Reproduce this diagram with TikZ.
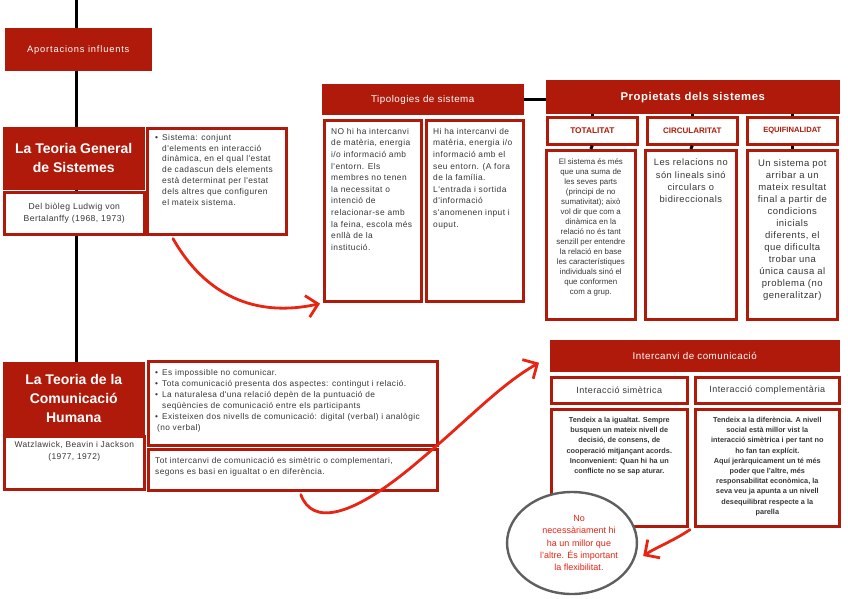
\documentclass[tikz,border=0pt]{standalone}
\usepackage{fontspec}
\setmainfont{Liberation Sans}
\newfontfamily\spaced[LetterSpace=5]{Liberation Sans}
\newfontfamily\wider[LetterSpace=9]{Liberation Sans}
\usetikzlibrary{arrows.meta,shapes.geometric,calc}
\definecolor{mainred}{RGB}{176,26,10}
\definecolor{arrowred}{RGB}{232,36,18}
\definecolor{bodygray}{RGB}{55,55,55}
\definecolor{ringgray}{RGB}{95,95,95}
\newcommand{\bl}{\makebox[7pt][l]{•}}
\newcommand{\ind}{\hspace*{7pt}}
\tikzset{
  redhead/.style={fill=mainred, draw=mainred, line width=1.5pt, text=white, align=center, inner sep=2pt, anchor=north west},
  whitebox/.style={draw=mainred, line width=2.6pt, fill=white, anchor=north west, inner sep=0pt},
  bodytext/.style={text=bodygray, inner sep=0pt},
  redarrow/.style={draw=arrowred, line width=2.8pt, line cap=round, -{Straight Barb[length=11pt,width=22pt,line width=2.8pt]}},
  spine/.style={draw=black, line width=3pt},
}
\begin{document}
\begin{tikzpicture}[x=1pt,y=-1pt]
\useasboundingbox (0,0) rectangle (848,599);
% spine
\coordinate (top) at (76,0);
\coordinate (bottom) at (76,488);
\draw[spine] (top) -- (bottom);
% left column
\node[redhead, minimum width=145, minimum height=42, font=\wider\fontsize{9.3}{11}\selectfont] (aport) at (5,28) {Aportacions influents};
\node[redhead, minimum width=140, minimum height=61, font=\fontsize{14}{19}\selectfont\bfseries] (gen) at (3,127) {La Teoria General\\de Sistemes};
\node[whitebox, minimum width=140, minimum height=42, align=center, font=\spaced\fontsize{8.6}{12}\selectfont, text=bodygray] (gendesc) at (3,191) {Del biòleg Ludwig von\\Bertalanffy (1968, 1973)};
\node[whitebox, minimum width=139, minimum height=106] (sist) at (146,127) {};
\node[bodytext, anchor=north west, align=left, font=\spaced\fontsize{8.4}{10.8}\selectfont] (sistt) at (155,134)
  {\bl Sistema: conjunt\\ \ind d'elements en interacció\\ \ind dinàmica, en el qual l'estat\\ \ind de cadascun dels elements\\ \ind està determinat per l'estat\\ \ind dels altres que configuren\\ \ind el mateix sistema.};

\node[redhead, minimum width=140, minimum height=71, font=\fontsize{14}{19}\selectfont\bfseries] (com) at (3,362) {La Teoria de la\\Comunicació\\Humana};
\node[whitebox, minimum width=140, minimum height=53] (comdesc) at (3,435) {};
\node[bodytext, anchor=north, align=center, font=\spaced\fontsize{8.4}{12}\selectfont] (comdesct) at ($(comdesc.north)+(0,6)$) {Watzlawick, Beavin i Jackson\\(1977, 1972)};
\node[whitebox, minimum width=289, minimum height=84] (bul) at (147,360) {};
\node[bodytext, anchor=north west, align=left, font=\spaced\fontsize{8.3}{11}\selectfont] (bult) at (155,369)
  {\bl Es impossible no comunicar.\\
   \bl Tota comunicació presenta dos aspectes: contingut i relació.\\
   \bl La naturalesa d'una relació depèn de la puntuació de\\
   \ind seqüències de comunicació entre els participants\\
   \bl Existeixen dos nivells de comunicació: digital (verbal) i analògic\\
   \hspace*{2pt}(no verbal)};
\node[whitebox, minimum width=289, minimum height=41] (totint) at (147,448) {};
\node[bodytext, anchor=north west, align=left, font=\spaced\fontsize{8.3}{11}\selectfont] (totintt) at (155,457)
  {Tot intercanvi de comunicació es simètric o complementari,\\segons es basi en igualtat o en diferència.};

% tipologies
\node[redhead, minimum width=200, minimum height=30, font=\spaced\fontsize{9.8}{11}\selectfont] (tiph) at (322,84) {Tipologies de sistema};
\node[whitebox, minimum width=97, minimum height=181] (tip1) at (323,119) {};
\node[whitebox, minimum width=97, minimum height=181] (tip2) at (425,119) {};
\node[bodytext, anchor=north west, align=left, font=\spaced\fontsize{8.4}{11.6}\selectfont] (tip1t) at (331,128)
  {NO hi ha intercanvi\\de matèria, energia\\i/o informació amb\\l'entorn. Els\\membres no tenen\\la necessitat o\\intenció de\\relacionar-se amb\\la feina, escola més\\enllà de la\\institució.};
\node[bodytext, anchor=north west, align=left, font=\spaced\fontsize{8.4}{11.6}\selectfont] (tip2t) at (433,128)
  {Hi ha intercanvi de\\matèria, energia i/o\\informació amb el\\seu entorn. (A fora\\de la família.\\L'entrada i sortida\\d'informació\\s'anomenen input i\\ouput.};
\draw[spine] (tiph.east) -- ++(24,0);

% propietats
\node[redhead, minimum width=292, minimum height=33, font=\spaced\fontsize{11.3}{13}\selectfont\bfseries] (proph) at (546,80) {Propietats dels sistemes};
\node[whitebox, minimum width=90, minimum height=27, text=mainred, font=\fontsize{8.3}{9}\selectfont\bfseries] (tot) at (546,116) {TOTALITAT};
\node[whitebox, minimum width=90, minimum height=27, text=mainred, font=\fontsize{8}{9}\selectfont\bfseries] (circ) at (646,116) {CIRCULARITAT};
\node[whitebox, minimum width=90, minimum height=27, text=mainred, font=\fontsize{7.6}{9}\selectfont\bfseries] (equi) at (746,116) {EQUIFINALIDAT};
\node[whitebox, minimum width=89, minimum height=169] (totc) at (545,149) {};
\node[whitebox, minimum width=91, minimum height=169] (circc) at (644,149) {};
\node[whitebox, minimum width=90, minimum height=169] (equic) at (746,149) {};
\foreach \a/\b in {tot/totc, circ/circc, equi/equic}{
  \draw[spine] (\a.south) -- (\b.north);
  \draw[spine] (\a.north |- proph.south) -- (\a.north);
}
\node[bodytext, anchor=north, align=center, font=\fontsize{7.9}{10}\selectfont] (totct) at ($(totc.north)+(0,9)$)
  {El sistema és més\\que una suma de\\les seves parts\\(principi de no\\sumativitat); això\\vol dir que com a\\dinàmica en la\\relació no és tant\\senzill per entendre\\la relació en base\\les característiques\\individuals sinó el\\que conformen\\com a grup.};
\node[bodytext, anchor=north, align=center, font=\spaced\fontsize{9.3}{12.3}\selectfont] (circct) at ($(circc.north)+(0,10)$)
  {Les relacions no\\són lineals sinó\\circulars o\\bidireccionals};
\node[bodytext, anchor=north, align=center, font=\spaced\fontsize{9.5}{12}\selectfont] (equict) at ($(equic.north)+(0,10)$)
  {Un sistema pot\\arribar a un\\mateix resultat\\final a partir de\\condicions\\inicials\\diferents, el\\que dificulta\\trobar una\\única causa al\\problema (no\\generalitzar)};

% intercanvi
\node[redhead, minimum width=288, minimum height=30, font=\spaced\fontsize{9.8}{11}\selectfont] (inth) at (550,340) {Intercanvi de comunicació};
\node[whitebox, minimum width=136, minimum height=26, text=bodygray, font=\spaced\fontsize{9}{10}\selectfont] (sim) at (550,376) {Interacció simètrica};
\node[whitebox, minimum width=144, minimum height=26, text=bodygray, font=\spaced\fontsize{9}{10}\selectfont] (comp) at (694,376) {Interacció complementària};
\node[whitebox, minimum width=136, minimum height=117] (simc) at (550,408) {};
\node[whitebox, minimum width=144, minimum height=117] (compc) at (694,408) {};
\node[bodytext, anchor=north, align=center, font=\fontsize{7.3}{10.2}\selectfont\bfseries] (simct) at ($(simc.north)+(0,9)$)
  {Tendeix a la igualtat. Sempre\\busquen un mateix nivell de\\decisió, de consens, de\\cooperació mitjançant acords.\\Inconvenient: Quan hi ha un\\conflicte no se sap aturar.};
\node[bodytext, anchor=north, align=center, font=\fontsize{7.3}{10.2}\selectfont\bfseries] (compct) at ($(compc.north)+(0,9)$)
  {Tendeix a la diferència. A nivell\\social està millor vist la\\interacció simètrica i per tant no\\ho fan tan explícit.\\Aquí jeràrquicament un té més\\poder que l'altre, més\\responsabilitat econòmica, la\\seva veu ja apunta a un nivell\\desequilibrat respecte a la\\parella};

% note
\node[ellipse, draw=ringgray, line width=2.4pt, fill=white, minimum width=126, minimum height=102, inner sep=0pt, align=center, text=arrowred, font=\fontsize{9}{12.4}\selectfont] (note) at (572,543)
  {\hspace*{14pt}No\\\hspace*{14pt}necessàriament hi\\\hspace*{14pt}ha un millor que\\\hspace*{14pt}l'altre. És important\\\hspace*{14pt}la flexibilitat.};

% arrows
\coordinate (a1s) at ($(sist.south west)+(27,3)$);
\coordinate (a1e) at ($(tip1.south west)+(-3,1)$);
\draw[redarrow] (a1s) .. controls (205,295) and (255,318) .. (a1e);
\coordinate (a2s) at ($(totint.south)+(8,3)$);
\coordinate (a2e) at ($(inth.west)+(-11,7)$);
\draw[redarrow] (a2s) .. controls (312,525) and (350,520) .. (420,460) .. controls (470,418) and (500,385) .. (a2e);
\coordinate (a3s) at ($(compc.south west)+(-4,2)$);
\coordinate (a3e) at ($(note.east)+(5,13)$);
\draw[redarrow] (a3s) .. controls (675,540) and (655,548) .. (a3e);
\end{tikzpicture}
\end{document}
